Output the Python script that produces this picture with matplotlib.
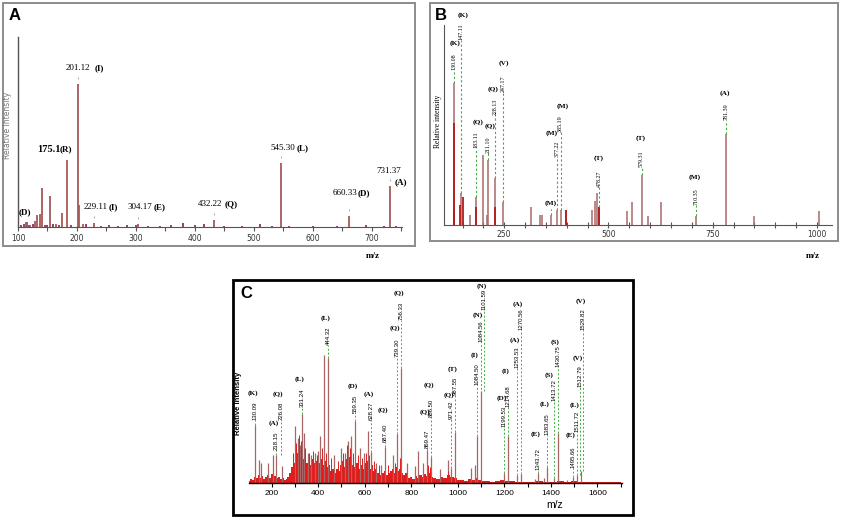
import matplotlib
matplotlib.use('Agg')
import matplotlib.pyplot as plt
import matplotlib.transforms as mtransforms
from matplotlib.patches import Rectangle
from matplotlib.ticker import MultipleLocator

SERIF = 'Liberation Serif'
SANS = 'Liberation Sans'
W, H = 850, 520

# ---------------- panel A data (m/z, relative intensity) ----------------
a_mz = [113, 115, 121, 128, 132, 136.7, 140.7, 155, 165, 174.6, 183, 201.12,
        202.8, 210, 229.11, 304.17, 432.22, 545.30, 660.33, 731.37]
a_int = [5, 5, 2.5, 6, 12, 13, 39, 31, 3.5, 14, 67, 143,
         22, 3.5, 4, 3, 6.7, 64, 11.3, 40.7]
a_noise_mz = [105, 110, 118, 125, 145, 150, 160, 170, 190, 215, 240, 255, 270, 285,
              300, 320, 340, 360, 380, 400, 415, 450, 480, 510, 530, 560, 600, 640,
              690, 720, 740]
a_noise_int = [2, 3, 2, 3, 2.5, 2, 3, 2, 2, 3, 1.5, 2, 1.5, 2.5,
               2, 1.5, 1.5, 2, 4, 2, 3, 1.5, 1.5, 3, 1.5, 1, 1.5, 1,
               2, 1.5, 1]
a_marked = [201.12, 229.11, 304.17, 432.22, 545.30, 660.33, 731.37]
a_marked_int = [143, 4, 3, 6.7, 64, 11.3, 40.7]
a_numbers = ['201.12', '175.1', '', '229.11', '304.17', '432.22', '545.30', '660.33', '731.37']
a_letters = ['(I)', '(R)', '(D)', '(I)', '(E)', '(Q)', '(L)', '(D)', '(A)']

# ---------------- panel B data ----------------
b_mz = [130.08, 147.11, 168, 183.11, 198, 208, 211.10, 228.13, 247.17, 315, 336, 340,
        361, 377.22, 385.19, 397, 460, 468, 472, 478.27, 544, 556, 579.31, 596, 626,
        710.35, 781.39, 848, 1004]
b_int = [142, 32, 10, 28, 70, 10, 65, 46.7, 23, 18, 10, 10,
         10, 15, 15, 15, 15, 24, 32, 18, 14, 23, 50, 9, 23,
         9, 91, 9, 14]
b_red_mz = [128.5, 130.08, 145, 150, 183.11, 228.13, 397, 478.27]
b_red_int = [15, 102, 20, 28, 18, 18, 15, 18]
b_numbers = ['130.08', '147.11', '183.11', '211.10', '228.13', '247.17', '', '377.22',
             '385.19', '478.27', '579.31', '710.35', '781.39']
b_letters = ['(K)', '(K)', '(Q)', '(Q)', '(Q)', '(V)', '(M)', '(M)',
             '(M)', '(T)', '(T)', '(M)', '(A)']
b_label_mz = [130.08, 147.11, 183.11, 211.10, 228.13, 247.17, 361, 377.22,
              385.19, 478.27, 579.31, 710.35, 781.39]
b_label_base = [142, 32, 28, 65, 46.7, 23, 10, 15, 15, 18, 50, 9, 91]

# ---------------- panel C data ----------------
c_mz = [130.09, 144, 155, 183, 205, 218.15, 246, 300, 314, 323, 331.24, 340, 355, 370,
        385, 400, 410, 426, 444.32, 470, 500, 515, 527, 541, 559.35, 580, 595, 613,
        628.27, 650, 670, 687.40, 720, 739.30, 756.33, 780, 815, 829, 850, 869.47,
        886.50, 923, 959, 971.42, 987.55, 1056, 1074, 1084.50, 1101.59, 1199.53,
        1214.68, 1253.53, 1270.56, 1330, 1343.72, 1370, 1383.65, 1413.72, 1430.75,
        1470, 1495.66, 1511.72, 1529.82]
c_int = [58.3, 23, 20, 20, 28, 28, 17, 57, 45, 38, 69, 50, 30, 28,
         30, 32, 47, 128, 125, 28, 35, 30, 42, 47, 62, 35, 30, 52,
         31, 20, 18, 36, 28, 49, 115, 20, 17, 32, 20, 33,
         26, 14, 23, 15, 51, 15, 18, 47, 92, 10,
         47, 8, 9, 4, 10, 5, 16, 5, 50,
         3, 6, 8, 12]
c_noise_mz = [105, 112, 120, 128, 136, 144, 152, 160, 168, 176, 184, 192, 200, 208, 216,
              224, 232, 240, 248, 256, 264, 272, 280, 288, 296, 304, 312, 320, 328, 336,
              344, 352, 360, 368, 376, 384, 392, 400, 408, 416, 424, 432, 440, 448, 456,
              464, 472, 480, 488, 496, 504, 512, 520, 528, 536, 544, 552, 560, 568, 576,
              584, 592, 600, 608, 616, 624, 632, 640, 648, 656, 664, 672, 680, 688, 696,
              704, 712, 720, 728, 736, 744, 752, 760, 768, 776, 784, 792, 800, 810, 820,
              830, 840, 850, 860, 870, 880, 890, 900, 915, 930, 945, 960, 975, 990, 1005,
              1020, 1035, 1050, 1065, 1080, 1095, 1110, 1130, 1150, 1170, 1190, 1210, 1230,
              1260, 1290, 1320, 1350, 1380, 1410, 1440, 1470, 1500, 1530, 1560, 1600, 1650,
              1700]
c_noise_int = [2, 4, 3, 6, 5, 8, 5, 7, 4, 6, 8, 5, 9, 6, 7,
               5, 6, 4, 5, 3, 4, 6, 10, 16, 20, 24, 30, 26, 32, 24,
               28, 20, 22, 18, 24, 20, 22, 26, 20, 24, 18, 22, 16, 18, 12,
               14, 10, 14, 12, 18, 22, 16, 24, 20, 26, 18, 22, 16, 20, 14,
               18, 14, 20, 16, 22, 14, 18, 12, 14, 10, 12, 8, 10, 12, 8,
               10, 12, 14, 10, 16, 12, 14, 10, 8, 10, 6, 5, 6, 4, 7,
               5, 8, 6, 9, 7, 10, 6, 5, 4, 6, 5, 8, 6, 5, 3,
               3, 2, 4, 3, 5, 3, 2, 2, 1.5, 2, 3, 2.5, 2,
               1.5, 1.5, 1.5, 2, 1.5, 1.5, 2, 1.5, 2, 1.5, 1.5, 1, 1,
               1]
c_red_mz = [290, 305, 318, 326, 345, 362, 378, 395, 415, 435, 455, 485, 508, 522, 535,
            548, 572, 588, 605, 620, 640, 660, 700, 730, 750, 870, 880, 960]
c_red_int = [30, 40, 48, 42, 35, 30, 32, 28, 35, 30, 25, 22, 30, 38, 35,
             30, 28, 25, 30, 28, 22, 18, 18, 20, 25, 18, 16, 12]
c_numbers = ['130.09', '218.15', '226.08', '331.24', '444.32', '559.35', '628.27', '687.40',
             '739.30', '756.33', '869.47', '886.50', '971.42', '987.55', '1084.50',
             '1084.56', '1101.59', '1199.53', '1214.68', '1253.53', '1270.56', '1343.72',
             '1383.65', '1413.72', '1430.75', '1495.66', '1511.72', '1512.79', '1529.82']
c_letters = ['(K)', '(A)', '(Q)', '(L)', '(L)', '(D)', '(A)', '(Q)',
             '(Q)', '(Q)', '(Q)', '(Q)', '(Q)', '(T)', '(I)',
             '(N)', '(N)', '(D)', '(I)', '(A)', '(A)', '(E)',
             '(L)', '(S)', '(S)', '(E)', '(L)', '(V)', '(V)']
c_label_base = [58.3, 28, 28, 69, 125, 62, 31, 36, 49, 115, 33, 26, 15, 51, 47,
                47, 92, 10, 47, 8, 9, 10, 16, 5, 50, 6, 8, 8, 12]

# ---------------- layout of the annotations (data units of each panel) ----------------
a_num_x = [181.4, 132.2, None, 211.9, 286.4, 405, 528.8, 633.9, 706.8]
a_let_x = [230.5, 171.2, 101.7, 254.2, 330.5, 450.8, 572.9, 676.3, 739]
a_num_y = [159, 78, None, 20, 20, 23, 79, 34, 56]
a_let_y = [159, 78, 15, 20, 20, 23, 79, 34, 45]

b_num_y = [155, 185, 77, 72, 110, 133, None, 68, 93, 38, 58, 20, 105]
b_let_x = [131.8, 151, 187, 216, 223, 250, 361, 364, 390, 477, 576, 706, 780]
b_let_y = [182, 210, 103, 99, 136, 162, 22, 92, 119, 67, 87, 48, 132]

c_label_x = [130.09, 218.15, 240, 331.24, 444.32, 559.35, 628.27, 687.40,
             739.30, 756.33, 869.47, 886.50, 971.42, 987.55, 1084.50,
             1098, 1112, 1199.53, 1214.68, 1253.53, 1270.56, 1343.72,
             1383.65, 1413.72, 1430.75, 1495.66, 1511.72, 1527, 1540]
c_let_dx = [-2.5] * 23 + [-4.5] + [-2.5] * 5   # pixels, letters sit left of numbers
c_num_y = [63, 33, 63, 76, 138, 70, 63, 41, 126, 163, 35, 66, 64, 88, 98,
           141, 173, 56, 76, 115, 153, 13, 48, 82, 116, 15, 51, 96, 153]
c_let_y = [90, 60, 89, 104, 165, 97, 89, 73, 155, 190, 71, 98, 88, 114, 128,
           168, 197, 85, 112, 143, 179, 49, 79, 108, 141, 48, 78, 125, 182]


def px_axes(fig, l, t, r, b):
    return fig.add_axes([l / W, 1 - b / H, (r - l) / W, (b - t) / H])


def frame(fig, l, t, r, b, color, lw):
    fig.add_artist(Rectangle((l / W, 1 - b / H), (r - l) / W, (b - t) / H,
                             transform=fig.transFigure, fill=False,
                             edgecolor=color, linewidth=lw))


fig = plt.figure(figsize=(8.5, 5.2), dpi=100)
fig.patch.set_facecolor('white')

green = '#3fae3f'

# ======================= panel A =======================
frame(fig, 3, 3, 415, 246, '#8c8c8c', 1.4)
ax = px_axes(fig, 18, 37, 402, 227)
ax.vlines(a_noise_mz, 0, a_noise_int, colors='#7d2457', linewidth=1.2)
ax.vlines(a_mz, 0, a_int, colors='#a65858', linewidth=1.3)
ax.plot(a_marked, [v + 6 for v in a_marked_int], ls='none', marker='|',
        ms=2, mew=0.6, color='#999999')
ax.set_xlim(100, 751)
ax.set_ylim(0, 190)
for s in ['top', 'right']:
    ax.spines[s].set_visible(False)
ax.spines['left'].set_color('#555555')
ax.spines['bottom'].set_color('#555555')
ax.spines['left'].set_linewidth(1.0)
ax.set_yticks([])
ax.xaxis.set_major_locator(MultipleLocator(100))
ax.xaxis.set_minor_locator(MultipleLocator(50))
ax.tick_params(axis='x', which='both', direction='out', length=3, width=0.8,
               color='#555555', labelsize=5.5, labelcolor='#333333', pad=2)
for i in range(len(a_letters)):
    if a_numbers[i]:
        bold = a_numbers[i] == '175.1'
        ax.text(a_num_x[i], a_num_y[i], a_numbers[i], ha='left', va='center',
                family=SERIF, fontsize=7.5 if bold else 6.5,
                fontweight='bold' if bold else 'normal', clip_on=False)
    ax.text(a_let_x[i], a_let_y[i], a_letters[i], ha='left', va='center',
            family=SERIF, fontsize=6.5, fontweight='bold', clip_on=False)
fig.text(8 / W, 1 - 125 / H, 'Relative Intensity', rotation=90, ha='center',
         va='center', fontsize=5.5, color='#777777', family='DejaVu Sans')
fig.text(373 / W, 1 - 256 / H, 'm/z', ha='center', va='center', family=SERIF,
         fontsize=6.5, fontweight='bold')
fig.text(15 / W, 1 - 15 / H, 'A', ha='center', va='center', family=SANS,
         fontsize=12, fontweight='bold')

# ======================= panel B =======================
frame(fig, 430, 3, 838, 241, '#8c8c8c', 1.4)
ax = px_axes(fig, 443.8, 25, 831.5, 225)
ax.vlines(b_mz, 0, b_int, colors='#a86a6a', linewidth=1.1)
ax.vlines(b_red_mz, 0, b_red_int, colors='#b31b1b', linewidth=1.3)
ax.set_xlim(105, 1035)
ax.set_ylim(0, 200)
for s in ['top', 'right']:
    ax.spines[s].set_visible(False)
ax.spines['left'].set_color('#555555')
ax.spines['bottom'].set_color('#555555')
ax.set_yticks([])
ax.set_xticks([250, 500, 750, 1000])
ax.xaxis.set_minor_locator(MultipleLocator(50))
ax.tick_params(axis='x', which='both', direction='inout', length=5, width=0.8,
               color='#555555', labelsize=5.5, labelcolor='#333333', pad=1)
for i in range(len(b_letters)):
    x = b_label_mz[i]
    top = b_num_y[i] if b_num_y[i] is not None else b_let_y[i] - 6
    ax.vlines(x, b_label_base[i], top, colors=green, linewidth=0.8,
              linestyles=(0, (2, 2)))
    if b_numbers[i]:
        ax.text(x, b_num_y[i], b_numbers[i], rotation=90, ha='center', va='bottom',
                family=SERIF, fontsize=4.3, clip_on=False)
    ax.text(b_let_x[i], b_let_y[i], b_letters[i], ha='center', va='center',
            family=SERIF, fontsize=5.3, fontweight='bold', clip_on=False)
fig.text(438 / W, 1 - 121 / H, 'Relative intensity', rotation=90, ha='center',
         va='center', fontsize=5.5, family=SERIF)
fig.text(813 / W, 1 - 256 / H, 'm/z', ha='center', va='center', family=SERIF,
         fontsize=6.5, fontweight='bold')
fig.text(441 / W, 1 - 16 / H, 'B', ha='center', va='center', family=SANS,
         fontsize=12, fontweight='bold')

# ======================= panel C =======================
frame(fig, 233, 280, 633, 515, '#000000', 2.0)
ax = px_axes(fig, 249, 283.3, 621.6, 483.3)
ax.vlines(c_mz, 0, c_int, colors='#a96565', linewidth=0.9)
ax.fill_between(c_noise_mz, c_noise_int, step='mid', color='#e31b1b', linewidth=0)
ax.vlines(c_red_mz, 0, c_red_int, colors='#e31b1b', linewidth=0.7)
ax.set_xlim(103, 1704)
ax.set_ylim(0, 200)
for s in ['top', 'right', 'left']:
    ax.spines[s].set_visible(False)
ax.spines['bottom'].set_linewidth(1.0)
ax.set_yticks([])
ax.xaxis.set_major_locator(MultipleLocator(200))
ax.xaxis.set_minor_locator(MultipleLocator(100))
ax.tick_params(axis='x', which='both', direction='out', length=3, width=0.8,
               labelsize=6, pad=2)
for t in ax.get_xticklabels():
    t.set_family(SANS)
for i in range(len(c_letters)):
    x = c_label_x[i]
    ax.vlines(x, c_label_base[i], c_num_y[i], colors=green, linewidth=0.7,
              linestyles=(0, (2, 2)))
    ax.text(x, c_num_y[i], c_numbers[i], rotation=90, ha='center', va='bottom',
            family=SANS, fontsize=4.3, clip_on=False)
    shift = ax.transData + mtransforms.ScaledTranslation(c_let_dx[i] / 100, 0,
                                                         fig.dpi_scale_trans)
    ax.text(x, c_let_y[i], c_letters[i], ha='center', va='center', family=SERIF,
            fontsize=5.2, fontweight='bold', clip_on=False, transform=shift)
fig.text(238 / W, 1 - 403 / H, 'Relative Intensity', rotation=90, ha='center',
         va='center', fontsize=5.5, family=SANS, fontweight='bold')
fig.text(555 / W, 1 - 505 / H, 'm/z', ha='center', va='center', family=SANS,
         fontsize=7.5)
fig.text(246 / W, 1 - 294 / H, 'C', ha='center', va='center', family=SANS,
         fontsize=12, fontweight='bold')

fig.savefig('out.png', dpi=100)
